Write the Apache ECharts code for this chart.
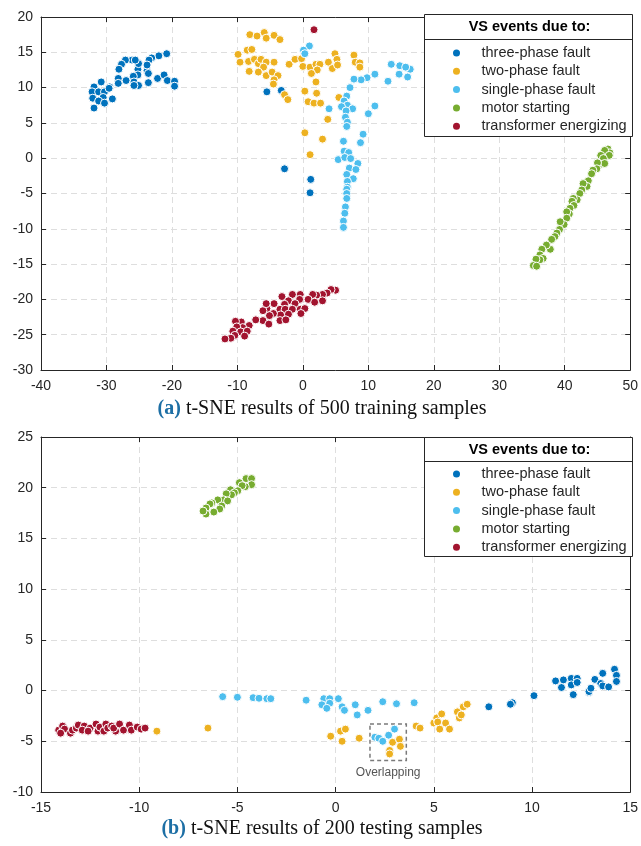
<!DOCTYPE html>
<html>
<head>
<meta charset="utf-8">
<script src="https://cdn.jsdelivr.net/npm/echarts@6/dist/echarts.min.js"></script>
<style>html,body{margin:0;padding:0;background:#fff}#c{width:641px;height:846px}</style>
</head>
<body>
<div id="c"></div>
<script>
// ---------- Data ----------
const seriesNames = ['three-phase fault','two-phase fault','single-phase fault','motor starting','transformer energizing'];
const seriesColors = ['#0072BD','#EDB120','#4DBEEE','#77AC30','#A2142F'];
const legendTitle = 'VS events due to:';
const captionA = ['(a)', ' t-SNE results of 500 training samples'];
const captionB = ['(b)', ' t-SNE results of 200 testing samples'];
const overlapLabel = 'Overlapping';
const overlapBox = [[1.75,-3.3],[3.6,-6.9]];

// (a) training samples
const topThree = [[-20.8,14.8],[-22.0,14.5],[-23.1,14.2],[-23.5,13.9],[-26.1,13.9],[-27.1,13.9],[-27.7,13.3],[-28.1,12.6],[-25.2,12.6],[-23.8,12.4],[-23.6,12.0],[-25.2,11.8],[-25.9,11.6],[-27.0,11.0],[-28.2,11.3],[-28.2,10.6],[-29.5,10.1],[-30.8,10.8],[-31.9,10.1],[-32.2,9.4],[-31.2,9.4],[-30.3,9.4],[-30.5,8.6],[-32.1,8.5],[-31.2,8.1],[-30.3,7.8],[-31.9,7.1],[-29.1,8.4],[-29.6,9.9],[-25.8,10.8],[-25.1,10.3],[-25.8,10.3],[-23.6,10.7],[-22.2,11.3],[-21.2,11.8],[-20.7,11.0],[-19.6,10.9],[-19.6,10.2],[-25.1,13.4],[-25.6,13.9],[-23.8,13.2],[-5.5,9.4],[-3.3,9.6],[-2.8,-1.5],[1.2,-3.0],[1.1,-4.9]];
const topTwo = [[-8.1,17.5],[-7.0,17.3],[-5.9,17.8],[-5.6,17.0],[-4.4,17.4],[-3.5,16.8],[-9.9,14.7],[-8.5,15.3],[-7.8,15.4],[-9.6,13.6],[-8.3,13.7],[-7.4,14.0],[-6.8,13.4],[-6.4,14.0],[-5.6,13.6],[-4.4,13.6],[-6.0,12.9],[-8.2,12.3],[-6.8,12.2],[-5.6,11.7],[-4.7,12.2],[-3.8,11.7],[-4.4,11.1],[-4.5,10.5],[-2.8,9.0],[-2.3,8.3],[-2.1,13.3],[-1.2,14.0],[-0.2,14.1],[0.0,13.0],[1.1,12.9],[2.0,13.3],[2.6,13.3],[2.2,12.5],[1.3,12.0],[2.0,10.8],[0.3,9.5],[2.1,9.2],[0.8,8.0],[1.7,7.8],[2.7,7.8],[3.8,5.5],[0.3,3.6],[3.0,2.7],[1.1,0.5],[4.9,14.8],[3.9,13.6],[5.2,14.0],[4.5,12.7],[5.3,13.2],[7.8,14.6],[8.0,13.6],[8.7,13.5],[8.7,12.9],[5.5,8.6]];
const topSingle = [[1.0,15.9],[0.1,15.3],[0.3,14.8],[13.5,13.3],[14.8,13.1],[16.4,12.6],[16.0,11.5],[14.7,11.9],[15.7,12.9],[11.0,11.9],[9.8,11.4],[8.9,11.1],[7.8,11.2],[13.0,10.9],[7.2,10.0],[6.7,8.8],[6.3,8.1],[6.8,7.5],[5.9,7.3],[7.6,7.0],[4.0,7.0],[6.6,6.7],[11.0,7.4],[10.0,6.3],[6.5,5.8],[6.8,5.1],[6.7,4.5],[9.2,3.4],[8.8,2.2],[6.2,2.4],[6.3,1.0],[7.0,0.8],[5.4,-0.2],[6.4,0.1],[7.3,-0.05],[8.4,-0.75],[7.1,-1.4],[8.1,-1.6],[6.7,-2.3],[7.7,-2.9],[6.8,-3.3],[6.8,-4.1],[6.7,-4.4],[6.7,-5.0],[6.7,-5.7],[6.5,-6.9],[6.4,-7.8],[6.2,-8.9],[6.2,-9.8]];
const topMotor = [[46.6,1.3],[46.9,0.75],[46.1,1.1],[45.5,0.4],[46.8,0.4],[45.9,-0.05],[45.5,-0.85],[46.1,-0.75],[45.0,-0.66],[44.9,-1.5],[44.3,-1.7],[44.1,-2.2],[43.6,-3.2],[43.4,-4.0],[42.8,-3.6],[42.6,-4.5],[42.3,-5.0],[41.9,-5.9],[41.3,-5.7],[41.1,-6.1],[41.4,-6.7],[40.8,-7.1],[40.7,-7.9],[40.3,-7.6],[40.3,-8.5],[39.9,-9.4],[39.3,-9.0],[39.2,-10.1],[38.8,-10.6],[38.5,-11.1],[38.0,-11.5],[37.8,-12.9],[37.2,-12.3],[36.5,-12.9],[36.2,-13.7],[36.7,-14.2],[36.2,-14.4],[35.6,-14.3],[35.2,-15.2],[35.7,-15.3]];
const topTrans = [[5.0,-18.7],[4.3,-18.6],[3.7,-19.1],[3.0,-19.3],[2.1,-19.4],[1.5,-19.3],[0.8,-20.0],[1.8,-20.4],[3.0,-20.2],[-0.4,-19.3],[-1.6,-19.3],[-0.5,-20.0],[-3.2,-19.6],[-2.2,-20.2],[-1.2,-20.6],[-2.8,-20.7],[-4.4,-20.6],[-3.5,-21.4],[-2.7,-21.4],[-1.6,-21.4],[-0.4,-21.4],[0.3,-21.3],[-3.4,-22.2],[-2.2,-22.1],[-0.3,-22.0],[-3.5,-23.0],[-2.6,-22.9],[-4.5,-22.0],[-5.5,-21.3],[-6.1,-21.6],[-5.6,-20.6],[-5.1,-22.3],[-6.1,-23.0],[-7.2,-22.9],[-5.2,-23.5],[-8.2,-23.7],[-9.4,-23.2],[-10.3,-23.1],[-9.2,-24.0],[-10.1,-23.9],[-10.7,-24.5],[-9.5,-24.6],[-8.5,-24.5],[-10.4,-25.1],[-11.0,-25.5],[-11.9,-25.6],[-8.9,-25.2],[1.7,18.2]];

// (b) testing samples
const botThree = [[7.8,-1.6],[9.0,-1.2],[8.9,-1.35],[10.1,-0.5],[11.2,0.95],[11.6,1.05],[12.0,1.2],[12.3,1.2],[11.5,0.3],[12.0,0.56],[12.3,0.8],[12.1,-0.4],[12.9,-0.2],[12.9,-0.1],[13.0,0.23],[13.2,1.1],[13.6,1.7],[13.5,0.7],[13.6,0.46],[13.9,0.36],[14.2,2.1],[14.3,1.5],[14.3,0.9]];
const botTwo = [[-9.1,-4.0],[-6.5,-3.7],[-0.25,-4.5],[0.25,-4.0],[0.5,-3.8],[0.33,-5.0],[1.2,-4.7],[2.9,-5.1],[3.25,-4.8],[3.3,-5.5],[2.75,-5.9],[2.75,-6.25],[4.1,-3.5],[4.3,-3.7],[5.0,-3.2],[5.15,-2.7],[5.4,-2.3],[5.2,-3.1],[5.6,-3.2],[5.3,-3.8],[5.8,-3.8],[6.2,-2.1],[6.3,-2.7],[6.4,-2.4],[6.5,-1.6],[6.7,-1.35]];
const botSingle = [[-5.75,-0.6],[-5.0,-0.66],[-4.2,-0.7],[-3.9,-0.76],[-3.5,-0.8],[-3.3,-0.8],[-1.5,-0.95],[-0.6,-0.8],[-0.3,-0.8],[0.14,-0.8],[-0.7,-1.4],[-0.3,-1.25],[-0.45,-1.75],[0.33,-1.6],[0.45,-1.95],[1.0,-1.4],[1.65,-1.95],[1.1,-2.4],[2.4,-1.1],[3.1,-1.3],[4.0,-1.2],[2.0,-4.6],[2.2,-4.7],[2.4,-5.0],[2.7,-4.4],[3.0,-3.8]];
const botMotor = [[-4.56,20.9],[-4.28,20.9],[-4.9,20.5],[-4.28,20.3],[-4.6,20.1],[-4.76,20.2],[-4.98,19.7],[-5.35,19.8],[-5.15,19.5],[-5.3,19.3],[-5.57,19.4],[-5.7,18.8],[-5.5,18.7],[-6.0,18.8],[-6.3,18.5],[-6.4,18.4],[-5.8,18.2],[-5.9,17.9],[-6.2,17.6],[-6.6,18.0],[-6.6,17.4],[-6.75,17.7]];
const botTrans = [[-14.1,-3.9],[-13.9,-3.5],[-13.8,-3.8],[-14.0,-4.2],[-13.5,-4.2],[-13.4,-3.9],[-13.2,-3.7],[-13.1,-3.4],[-12.8,-3.5],[-12.9,-3.9],[-12.5,-3.7],[-12.6,-4.0],[-12.2,-3.3],[-12.1,-4.0],[-12.0,-3.6],[-11.8,-4.0],[-11.7,-3.3],[-11.6,-3.7],[-11.4,-3.5],[-11.2,-4.0],[-11.3,-3.7],[-11.0,-3.3],[-10.8,-3.9],[-10.5,-3.4],[-10.4,-3.9],[-10.1,-3.6],[-9.9,-3.8],[-9.7,-3.7]];

// axis ranges
const topX = {min:-40, max:50, interval:10};
const topY = {min:-30, max:20, interval:5};
const botX = {min:-15, max:15, interval:5};
const botY = {min:-10, max:25, interval:5};

// ---------- Chart ----------
const FONT = '"Liberation Sans", Arial, Helvetica, sans-serif';
const SERIF = '"Liberation Serif", "Times New Roman", serif';
const AX = '#262626';

function axisPair(range, isX, gridIndex) {
  const main = {
    type:'value', gridIndex, min:range.min, max:range.max, interval:range.interval,
    position: isX ? 'bottom' : 'left',
    axisLine:{show:true, onZero:false, lineStyle:{color:AX, width:1}},
    axisTick:{show:true, inside:true, length:5, lineStyle:{color:AX}},
    axisLabel:{color:AX, fontSize:14, fontFamily:FONT, margin: isX ? 9 : 8},
    splitLine:{show:true, lineStyle:{color:'#dedede', width:1, type:[6,4]}}
  };
  const opp = {
    type:'value', gridIndex, min:range.min, max:range.max, interval:range.interval,
    position: isX ? 'top' : 'right',
    axisLine:{show:true, onZero:false, lineStyle:{color:AX, width:1}},
    axisTick:{show:true, inside:true, length:5, lineStyle:{color:AX}},
    axisLabel:{show:false}, splitLine:{show:false}
  };
  return [main, opp];
}

const topSets = [topThree, topTwo, topSingle, topMotor, topTrans];
const botSets = [botThree, botTwo, botSingle, botMotor, botTrans];

const series = [];
topSets.forEach((d,i)=>series.push({
  type:'scatter', name:seriesNames[i], xAxisIndex:0, yAxisIndex:0, data:d,
  symbolSize:8, itemStyle:{color:seriesColors[i], borderColor:'#fff', borderWidth:1, opacity:1}, z:2+i
}));
botSets.forEach((d,i)=>{
  const s = {
    type:'scatter', name:seriesNames[i], xAxisIndex:2, yAxisIndex:2, data:d,
    symbolSize:8, itemStyle:{color:seriesColors[i], borderColor:'#fff', borderWidth:1, opacity:1}, z:2+i
  };
  if (i === 1) {
    s.markArea = {
      silent:true,
      itemStyle:{color:'rgba(0,0,0,0)', borderColor:'#7a7a7a', borderWidth:1.5, borderType:[4,3]},
      label:{show:true, position:'bottom', distance:5, color:'#555', fontSize:12, fontFamily:FONT},
      data:[[{name:overlapLabel, coord:overlapBox[0]},{coord:overlapBox[1]}]]
    };
  }
  series.push(s);
});

const tx = axisPair(topX, true, 0), ty = axisPair(topY, false, 0);
const bx = axisPair(botX, true, 1), by = axisPair(botY, false, 1);

function legendBox(top, h, sep, titleY) {
  return [
    {type:'rect', shape:{x:424.5, y:top+0.5, width:208, height:h}, style:{fill:'#fff', stroke:AX, lineWidth:1}, z:10},
    {type:'line', shape:{x1:424.5, y1:sep+0.5, x2:632.5, y2:sep+0.5}, style:{stroke:AX, lineWidth:1}, z:11},
    {type:'text', x:529.5, y:titleY, style:{text:legendTitle, font:'bold 14.5px '+FONT, fill:'#000', align:'center', verticalAlign:'middle'}, z:11}
  ];
}
function caption(parts, y) {
  return {type:'text', x:322, y:y, z:11, style:{
    text:'{a|'+parts[0]+'}{t|'+parts[1]+'}', align:'center', verticalAlign:'middle',
    rich:{a:{font:'bold 20px '+SERIF, fill:'#1d6fa5'}, t:{font:'20px '+SERIF, fill:'#111'}}
  }};
}

function legendCfg(top) {
  return {
    orient:'vertical', left:448, top:top, icon:'circle', itemWidth:40, itemHeight:7, itemGap:2.3,
    data:seriesNames, selectedMode:false, z:20,
    itemStyle:{borderWidth:0},
    textStyle:{color:AX, fontSize:14.5, fontFamily:FONT, lineHeight:16}
  };
}

const option = {
  animation:false,
  backgroundColor:'#fff',
  grid:[
    {left:41, right:9, top:17, height:353},
    {left:41, right:9, top:437, height:355}
  ],
  xAxis:[tx[0], tx[1], bx[0], bx[1]],
  yAxis:[ty[0], ty[1], by[0], by[1]],
  legend:[legendCfg(40), legendCfg(461)],
  graphic:[
    ...legendBox(14, 122, 39, 27),
    ...legendBox(437, 119, 461, 449.5),
    caption(captionA, 409),
    caption(captionB, 829)
  ],
  series
};

const chart = echarts.init(document.getElementById('c'), null, {renderer:'canvas'});
chart.setOption(option);
</script>
</body>
</html>
